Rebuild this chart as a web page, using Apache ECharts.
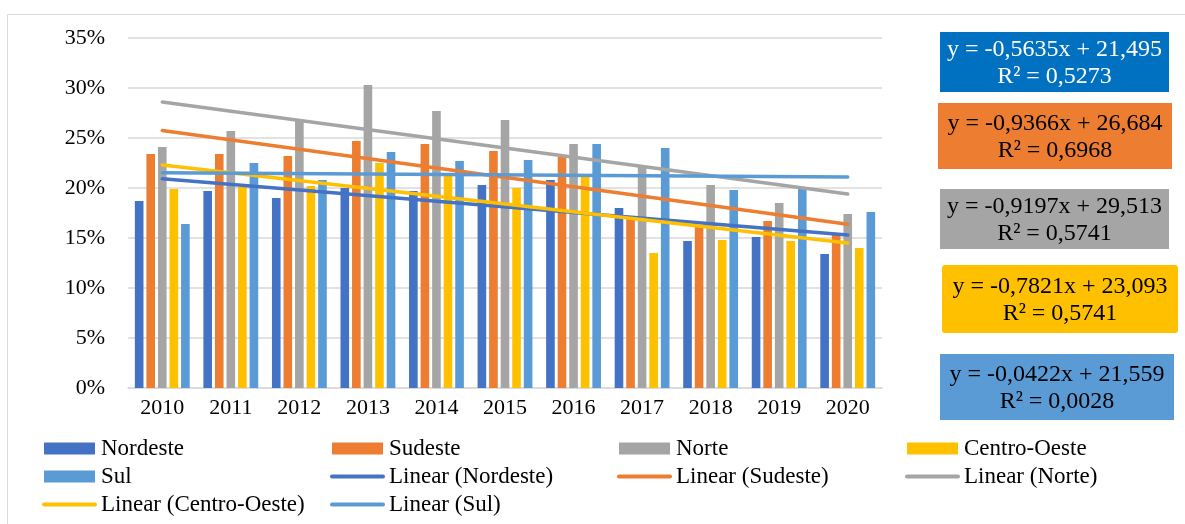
<!DOCTYPE html>
<html>
<head>
<meta charset="utf-8">
<script src="https://cdn.jsdelivr.net/npm/echarts@6/dist/echarts.min.js"></script>
<style>
  html, body { margin: 0; padding: 0; background: #fff; }
  #main { width: 1185px; height: 524px; }
</style>
</head>
<body>
<div id="main"></div>
<script>
var years = ['2010', '2011', '2012', '2013', '2014', '2015', '2016', '2017', '2018', '2019', '2020'];
var yTicks = [0, 5, 10, 15, 20, 25, 30, 35];

var nordeste = [18.7, 19.7, 19.0, 20.0, 19.7, 20.3, 20.8, 18.0, 14.7, 15.1, 13.4];
var sudeste = [23.4, 23.4, 23.2, 24.7, 24.4, 23.7, 23.1, 17.1, 16.1, 16.7, 15.3];
var norte = [24.1, 25.7, 26.7, 30.3, 27.7, 26.8, 24.4, 22.1, 20.3, 18.5, 17.4];
var centroOeste = [19.9, 20.1, 20.2, 22.5, 21.5, 20.0, 21.1, 13.5, 14.8, 14.7, 14.0];
var sul = [16.4, 22.5, 20.8, 23.6, 22.7, 22.8, 24.4, 24.0, 19.8, 19.9, 17.6];

// linhas de tendência: valor em 2010 e em 2020
var trendNames = ['Nordeste', 'Sudeste', 'Norte', 'Centro-Oeste', 'Sul'];
var trendStart = [20.93, 25.75, 28.59, 22.31, 21.52];
var trendEnd = [15.30, 16.38, 19.40, 14.49, 21.09];

var eqLines = ['y = -0,5635x + 21,495', 'y = -0,9366x + 26,684', 'y = -0,9197x + 29,513', 'y = -0,7821x + 23,093', 'y = -0,0422x + 21,559'];
var r2Lines = ['R² = 0,5273', 'R² = 0,6968', 'R² = 0,5741', 'R² = 0,5741', 'R² = 0,0028'];

var colors = ['#4472C4', '#ED7D31', '#A5A5A5', '#FFC000', '#5B9BD5'];
var font = 'Liberation Serif, Times New Roman, serif';

var myChart = echarts.init(document.getElementById('main'));

var barData = [nordeste, sudeste, norte, centroOeste, sul];
var series = [];
for (var i = 0; i < 5; i++) {
  series.push({
    name: trendNames[i],
    type: 'bar',
    data: barData[i],
    itemStyle: { color: colors[i] },
    barGap: '34%',
    barCategoryGap: '20%'
  });
}
for (var j = 0; j < 5; j++) {
  var d = years.map(function(y, k) {
    if (k == 0) return trendStart[j];
    if (k == years.length - 1) return trendEnd[j];
    return null;
  });
  series.push({
    name: 'Linear (' + trendNames[j] + ')',
    type: 'line',
    data: d,
    connectNulls: true,
    symbol: 'none',
    z: 5,
    lineStyle: { color: colors[j], width: 3.5, cap: 'round' },
    itemStyle: { color: colors[j] }
  });
}

// caixas das equações
var boxes = [
  { x: 940, y: 32, w: 229, h: 60, fill: '#0070C0', txt: '#fff' },
  { x: 938, y: 103, w: 234, h: 66, fill: '#ED7D31', txt: '#000' },
  { x: 940, y: 189, w: 229, h: 60, fill: '#A5A5A5', txt: '#000' },
  { x: 942, y: 265, w: 236, h: 68, fill: '#FFC000', txt: '#000' },
  { x: 940, y: 354, w: 234, h: 66, fill: '#5B9BD5', txt: '#000' }
];
var graphics = [{
  type: 'rect',
  shape: { x: 7.5, y: 14.5, width: 1200, height: 600 },
  style: { fill: 'none', stroke: '#d9d9d9', lineWidth: 1 },
  silent: true
}];
boxes.forEach(function(b, i) {
  graphics.push({
    type: 'rect',
    shape: { x: b.x, y: b.y, width: b.w, height: b.h, r: i == 3 ? 3 : 0 },
    style: { fill: b.fill },
    z: 10
  });
  graphics.push({
    type: 'text',
    x: b.x + b.w / 2,
    y: b.y + b.h / 2 + 1,
    z: 11,
    style: {
      text: eqLines[i] + '\n' + r2Lines[i],
      fill: b.txt,
      font: '24px ' + font,
      lineHeight: 27,
      align: 'center',
      verticalAlign: 'middle'
    }
  });
});

function lineItem(name) {
  return { name: name, itemStyle: { opacity: 0 }, lineStyle: { width: 4 } };
}

function legendCol(left, names) {
  return {
    orient: 'vertical',
    left: left,
    top: 437,
    padding: 0,
    itemGap: 5,
    itemWidth: 51,
    itemHeight: 12,
    data: names,
    textStyle: { fontFamily: font, fontSize: 23, color: '#000', padding: [0, 0, 0, 1] }
  };
}

var option = {
  animation: false,
  textStyle: { fontFamily: font },
  graphic: graphics,
  legend: [
    legendCol(42, [{ name: 'Nordeste', icon: 'rect' }, { name: 'Sul', icon: 'rect' }, lineItem('Linear (Centro-Oeste)')]),
    legendCol(330, [{ name: 'Sudeste', icon: 'rect' }, lineItem('Linear (Nordeste)'), lineItem('Linear (Sul)')]),
    legendCol(617, [{ name: 'Norte', icon: 'rect' }, lineItem('Linear (Sudeste)')]),
    legendCol(905, [{ name: 'Centro-Oeste', icon: 'rect' }, lineItem('Linear (Norte)')])
  ],
  grid: { left: 128, right: 303, top: 38, bottom: 136 },
  xAxis: {
    type: 'category',
    data: years,
    axisTick: { show: false },
    axisLine: { lineStyle: { color: '#d9d9d9', width: 1.5 } },
    axisLabel: { color: '#000', fontSize: 22, fontFamily: font, margin: 9 }
  },
  yAxis: {
    type: 'value',
    min: yTicks[0],
    max: yTicks[yTicks.length - 1],
    interval: 5,
    axisLine: { show: false },
    axisTick: { show: false },
    axisLabel: { color: '#000', fontSize: 22, fontFamily: font, margin: 23, formatter: '{value}%' },
    splitLine: { lineStyle: { color: '#d9d9d9', width: 1.5 } }
  },
  series: series
};

myChart.setOption(option);
</script>
</body>
</html>
